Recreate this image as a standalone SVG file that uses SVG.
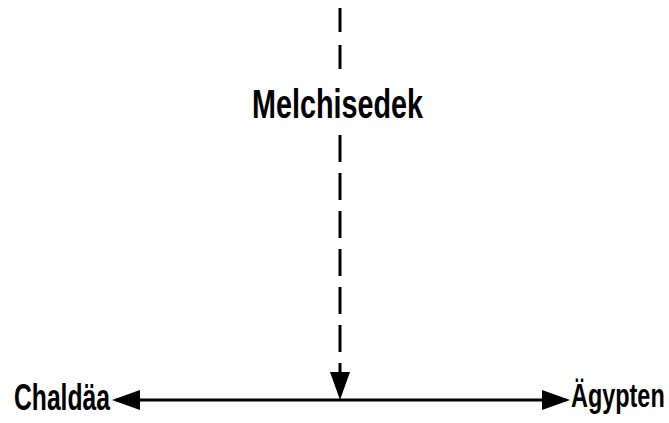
<svg xmlns="http://www.w3.org/2000/svg" width="669" height="423" viewBox="0 0 669 423">
<style>
.lbl{font-family:"Liberation Sans","DejaVu Sans",sans-serif;font-weight:bold;fill:#000}
.ln{stroke:#000;stroke-width:3;fill:none}
.dash1{stroke-dasharray:24 13}
.dash2{stroke-dasharray:27 11}
</style>
<defs>
<marker id="ah" viewBox="0 0 28 20" refX="24" refY="10" markerWidth="28" markerHeight="20" markerUnits="userSpaceOnUse" orient="auto-start-reverse">
<path d="M0,0 L28,10 L0,20 z" fill="#000"/>
</marker>
</defs>
<rect width="669" height="423" fill="#fff"/>
<g id="connectors">
<path class="ln dash1" d="M340,8 L340,69"/>
<path class="ln dash2" d="M340,135 L340,396" marker-end="url(#ah)"/>
<path class="ln" d="M116,400 L566,400" marker-start="url(#ah)" marker-end="url(#ah)"/>
</g>
<g id="melchisedek">
<text class="lbl" x="252" y="118" font-size="40" textLength="171" lengthAdjust="spacingAndGlyphs">Melchisedek</text>
</g>
<g id="chaldaea">
<text class="lbl" x="14" y="410" font-size="36" textLength="96" lengthAdjust="spacingAndGlyphs">Chaldäa</text>
</g>
<g id="aegypten">
<text class="lbl" transform="translate(571,407) scale(0.71,1)" x="0" y="0" font-size="33">Ägypten</text>
</g>
</svg>
